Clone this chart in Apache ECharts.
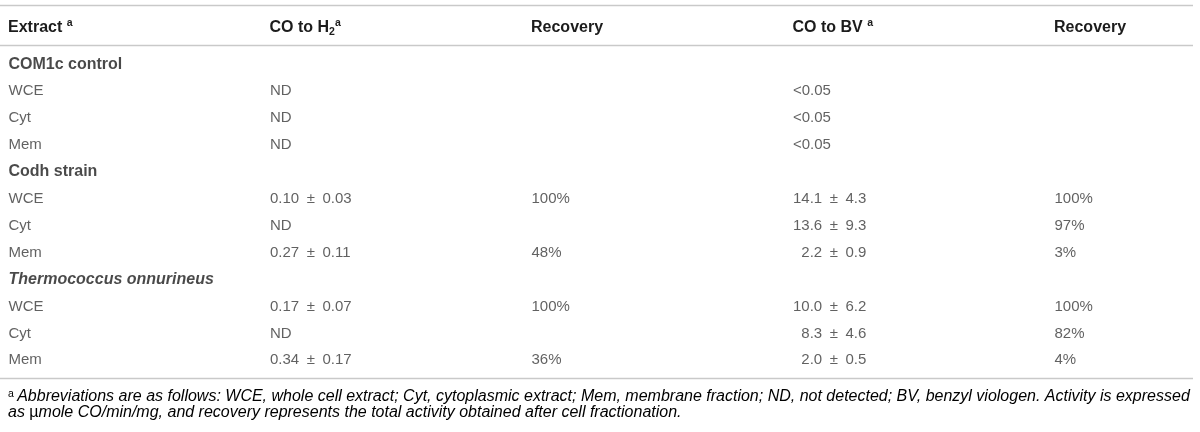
<!DOCTYPE html>
<html>
<head>
<meta charset="utf-8">
<script src="https://cdn.jsdelivr.net/npm/echarts@6/dist/echarts.min.js"></script>
<style>html,body{margin:0;padding:0;background:#fff;}#c{width:1200px;height:432px;}</style>
</head>
<body>
<div id="c"></div>
<script>
// ---- table content ----
const headers = ['Extract', 'CO to H2', 'Recovery', 'CO to BV', 'Recovery'];
const rowLabels = ['COM1c control', 'WCE', 'Cyt', 'Mem',
                   'Codh strain', 'WCE', 'Cyt', 'Mem',
                   'Thermococcus onnurineus', 'WCE', 'Cyt', 'Mem'];
const groupRows = [0, 4, 8];
const italicGroups = [8];
const coToH2     = ['', 'ND', 'ND', 'ND', '', '0.10 ± 0.03', 'ND', '0.27 ± 0.11', '', '0.17 ± 0.07', 'ND', '0.34 ± 0.17'];
const recoveryH2 = ['', '', '', '', '', '100%', '', '48%', '', '100%', '', '36%'];
const coToBV     = ['', '<0.05', '<0.05', '<0.05', '', '14.1 ± 4.3', '13.6 ± 9.3', '2.2 ± 0.9', '', '10.0 ± 6.2', '8.3 ± 4.6', '2.0 ± 0.5'];
const recoveryBV = ['', '', '', '', '', '100%', '97%', '3%', '', '100%', '82%', '4%'];
const footLine1 = 'Abbreviations are as follows: WCE, whole cell extract; Cyt, cytoplasmic extract; Mem, membrane fraction; ND, not detected; BV, benzyl viologen. Activity is expressed';
const footLine2a = 'as ';
const footLine2b = 'µ';
const footLine2c = 'mole CO/min/mg, and recovery represents the total activity obtained after cell fractionation.';

const FONT = "'Liberation Sans', Arial, Helvetica, sans-serif";
const BODY = '#3a3a3a';
const HEAD = '#1c1c1c';
const RULE = '#c9c9c9';

const columns = [rowLabels, coToH2, recoveryH2, coToBV, recoveryBV];
const data = [];
columns.forEach((col, c) => {
  col.forEach((txt, r) => {
    if (!txt) return;
    let formatted;
    if (c === 0 && groupRows.includes(r)) {
      formatted = '{' + (italicGroups.includes(r) ? 'gi' : 'g') + '|' + txt + '}';
    } else if (txt.indexOf(' ± ') >= 0) {
      const parts = txt.split(' ± ');
      formatted = '{n|' + parts[0] + '}{pm|±}{n|' + parts[1] + '}';
    } else {
      formatted = '{n|' + txt + '}';
    }
    // align single-digit values with two-digit ones in the BV column
    if (c === 3 && /^\d\./.test(txt)) formatted = '{pad|0}' + formatted;
    data.push({ value: [c, r], text: formatted });
  });
});

function headerFmt(v) {
  if (v === 'Extract') return '{h|Extract }{sup|a}';
  if (v === 'CO to H2') return '{h|CO to H}{sub|2}{sup|a}';
  if (v === 'CO to BV') return '{h|CO to BV }{sup|a}';
  return '{h|' + v + '}';
}

const chart = echarts.init(document.getElementById('c'), null, { renderer: 'canvas' });
chart.setOption({
  animation: false,
  backgroundColor: '#ffffff',
  grid: { left: 8, right: 146, top: 50.9, height: 322.9 },
  xAxis: {
    type: 'category',
    data: headers,
    position: 'top',
    boundaryGap: false,
    axisLine: { show: false },
    axisTick: { show: false },
    splitLine: { show: false },
    axisLabel: {
      show: true,
      interval: 0,
      align: 'left',
      verticalAlign: 'middle',
      margin: 23.5,
      formatter: headerFmt,
      rich: {
        h: { fontFamily: FONT, fontSize: 16, fontWeight: 'bold', color: HEAD, lineHeight: 20, verticalAlign: 'middle' },
        sup: { fontFamily: FONT, fontSize: 10.5, fontWeight: 'bold', color: HEAD, verticalAlign: 'top', lineHeight: 20, padding: [0, 0, 8, 0] },
        sub: { fontFamily: FONT, fontSize: 10.5, fontWeight: 'bold', color: HEAD, verticalAlign: 'bottom', lineHeight: 20, padding: [6, 0, 0, 0] }
      }
    }
  },
  yAxis: {
    type: 'category',
    data: rowLabels.map((_, i) => 'row' + i),
    inverse: true,
    axisLine: { show: false },
    axisTick: { show: false },
    axisLabel: { show: false },
    splitLine: { show: false }
  },
  series: [{
    type: 'scatter',
    symbolSize: 1,
    itemStyle: { color: 'rgba(0,0,0,0)' },
    data: data,
    label: {
      show: true,
      position: 'right',
      distance: 0,
      formatter: p => p.data.text,
      rich: {
        n: { fontFamily: FONT, fontSize: 15, color: BODY },
        pm: { fontFamily: FONT, fontSize: 15, color: BODY, padding: [0, 7.5, 0, 7.5] },
        pad: { fontFamily: FONT, fontSize: 15, color: 'rgba(0,0,0,0)' },
        g: { fontFamily: FONT, fontSize: 16, fontWeight: 'bold', color: HEAD },
        gi: { fontFamily: FONT, fontSize: 16, fontWeight: 'bold', fontStyle: 'italic', color: HEAD }
      }
    }
  }],
  graphic: [
    { type: 'line', shape: { x1: 0, y1: 5.5, x2: 1193, y2: 5.5 }, style: { stroke: RULE, lineWidth: 1.6 } },
    { type: 'line', shape: { x1: 0, y1: 45.5, x2: 1193, y2: 45.5 }, style: { stroke: RULE, lineWidth: 1.6 } },
    { type: 'line', shape: { x1: 0, y1: 378.5, x2: 1193, y2: 378.5 }, style: { stroke: RULE, lineWidth: 1.6 } },
    {
      type: 'text', left: 8, top: 389,
      style: {
        text: '{sup|a} {i|' + footLine1 + '}\n{i|' + footLine2a + '}{u|' + footLine2b + '}{i|' + footLine2c + '}',
        rich: {
          i: { fontFamily: FONT, fontSize: 16, fontStyle: 'italic', color: BODY, lineHeight: 16 },
          u: { fontFamily: FONT, fontSize: 16, color: BODY, lineHeight: 16 },
          sup: { fontFamily: FONT, fontSize: 10.5, color: BODY, lineHeight: 16, verticalAlign: 'top' }
        }
      }
    }
  ]
});
</script>
</body>
</html>
